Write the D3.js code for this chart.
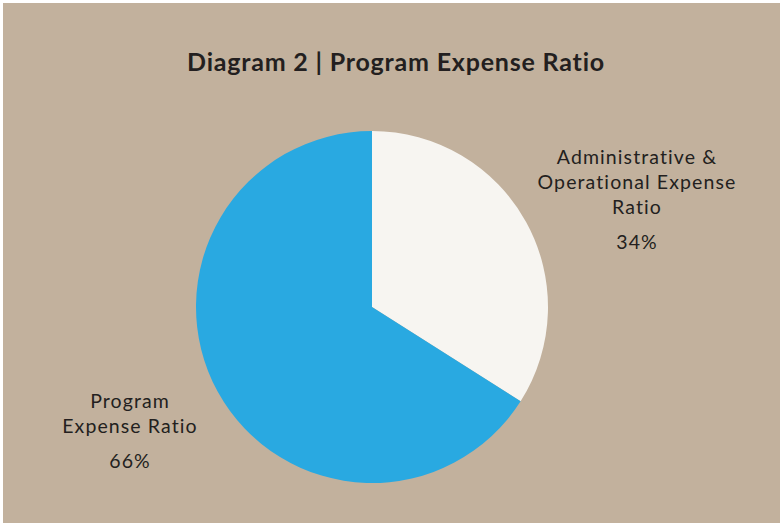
<!DOCTYPE html>
<html>
<head>
<meta charset="utf-8">
<script src="https://cdn.jsdelivr.net/npm/d3@7"></script>
<style>
  body { margin: 0; background: #ffffff; }
  svg { display: block; }
</style>
</head>
<body>
<div id="chart"></div>
<script>
// data
const categories = ["Administrative & Operational Expense Ratio", "Program Expense Ratio"];
const values = [34, 66];
const colors = ["#f7f5f1", "#29a9e1"];
const labelLines = [
    ["Administrative &", "Operational Expense", "Ratio"],
    ["Program", "Expense Ratio"]
];

const width = 782, height = 523;
const cx = 372, cy = 307, radius = 176;

const svg = d3.select("#chart")
    .append("svg")
    .attr("width", width)
    .attr("height", height);

// tan panel with thin white frame
svg.append("rect")
    .attr("x", 3).attr("y", 3)
    .attr("width", width - 5).attr("height", height - 3)
    .attr("fill", "#c2b19d");

svg.append("text")
    .attr("x", 396)
    .attr("y", 71)
    .attr("text-anchor", "middle")
    .style("font-family", "Lato, 'Open Sans', sans-serif")
    .style("font-weight", "bold")
    .style("font-size", "25px")
    .style("letter-spacing", "0.8px")
    .style("fill", "#231f20")
    .text("Diagram 2 | Program Expense Ratio");

const pie = d3.pie().sort(null).value(d => d.value);
const arc = d3.arc().innerRadius(0).outerRadius(radius);

const data = categories.map((c, i) => ({ name: c, value: values[i], color: colors[i], lines: labelLines[i] }));

const g = svg.append("g").attr("transform", `translate(${cx},${cy})`);

g.selectAll("path")
    .data(pie(data))
    .join("path")
    .attr("d", arc)
    .attr("fill", d => d.data.color);

// labels
const labelPos = [
    { x: 637, y: 164, pctY: 249 },
    { x: 130, y: 408, pctY: 468 }
];

const labels = svg.selectAll("g.label")
    .data(data)
    .join("g")
    .attr("class", "label")
    .style("font-family", "Lato, 'Open Sans', sans-serif")
    .style("font-size", "19.5px")
    .style("letter-spacing", "1.1px")
    .style("fill", "#231f20");

labels.each(function (d, i) {
    const p = labelPos[i];
    const t = d3.select(this);
    d.lines.forEach((line, j) => {
        t.append("text")
            .attr("x", p.x)
            .attr("y", p.y + j * 25)
            .attr("text-anchor", "middle")
            .text(line);
    });
    t.append("text")
        .attr("x", p.x)
        .attr("y", p.pctY)
        .attr("text-anchor", "middle")
        .text(d.value + "%");
});
</script>
</body>
</html>
